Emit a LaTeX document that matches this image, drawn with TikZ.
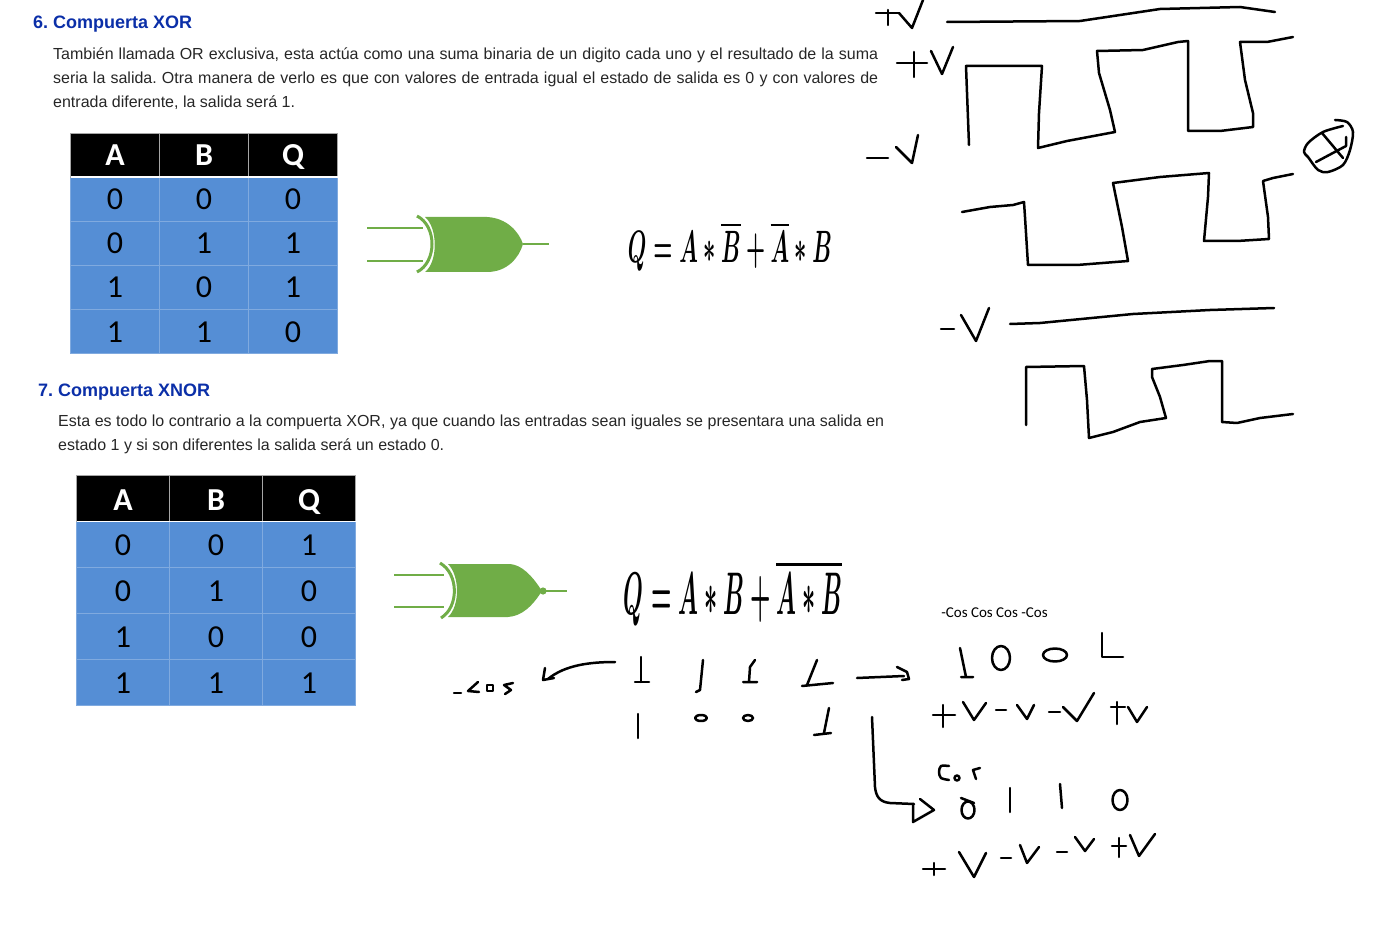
\documentclass[tikz,border=0pt]{standalone}
\usepackage{graphicx}
\usepackage{amsmath}
\usepackage{fontspec}
\setmainfont{Liberation Sans}
\newfontfamily\calfont{Carlito}
\usepackage{xcolor}
\definecolor{gatecolor}{HTML}{70AD47}
\definecolor{bitcolor}{HTML}{558ED5}
\definecolor{titlecolor}{HTML}{0B2FA8}
\definecolor{bodycolor}{HTML}{262626}
\tikzset{
	hand/.style={line width=2.5pt, line cap=round, line join=round},
	wire/.style={gatecolor, line width=1.6pt},
	title/.style={anchor=base west, inner sep=0pt, font=\frenchspacing\fontsize{18}{18}\selectfont\bfseries, text=titlecolor},
	body/.style={anchor=base west, inner sep=0pt, font=\frenchspacing\fontsize{16}{16}\selectfont, text=bodycolor},
	headcell/.style={fill=black, draw=white!65!black, line width=0.7pt, text=white, inner sep=0pt, outer sep=0pt},
	bitcell/.style={fill=bitcolor, draw=bitcolor!75!white, line width=0.7pt, text=black, inner sep=0pt, outer sep=0pt},
	xorcell/.style={minimum width=89pt, minimum height=44pt, text height=22pt, text depth=0pt},
	xnorcell/.style={minimum width=93pt, minimum height=46pt, text height=23.5pt, text depth=0pt},
	bitfont/.style={font=\calfont\fontsize{32}{32}\selectfont},
	headfont/.style={font=\calfont\bfseries\fontsize{32}{32}\selectfont}
}
\begin{document}
\begin{tikzpicture}[x=1pt, y=-1pt]
	\useasboundingbox (0,0) rectangle (1385,928);

	\node[title] (titlexor) at (33,29) {6. Compuerta XOR};
	\node[body] (xorone) at (53,59.7) {\makebox[825pt][s]{También llamada OR exclusiva, esta actúa como una suma binaria de un digito cada uno y el resultado de la suma}};
	\node[body] (xortwo) at (53,83.7) {\makebox[825pt][s]{seria la salida. Otra manera de verlo es que con valores de entrada igual el estado de salida es 0 y con valores de}};
	\node[body] (xorthree) at (53,107.7) {entrada diferente, la salida será 1.};
	\node[title] (titlexnor) at (38,396) {7. Compuerta XNOR};
	\node[body] (xnorone) at (58,426) {\makebox[826pt][s]{Esta es todo lo contrario a la compuerta XOR, ya que cuando las entradas sean iguales se presentara una salida en}};
	\node[body] (xnortwo) at (58,450) {estado 1 y si son diferentes la salida será un estado 0.};

	\foreach \x/\y/\val in {
		115/199/0, 204/199/0, 293/199/0,
		115/243/0, 204/243/1, 293/243/1,
		115/287/1, 204/287/0, 293/287/1,
		115/331/1, 204/331/1, 293/331/0
	}{
		\node[bitcell, xorcell, bitfont] at (\x,\y) {\val};
	}
	\foreach \n/\x/\y/\val in {
		xorA/115/155/A, xorB/204/155/B, xorQ/293/155/Q
	}{
		\node[headcell, xorcell, headfont] (\n) at (\x,\y) {\val};
	}
	\draw[white, line width=1.4pt] (xorA.south west) -- (xorQ.south east);

	\foreach \x/\y/\val in {
		123/544/0, 216/544/0, 309/544/1,
		123/590/0, 216/590/1, 309/590/0,
		123/636/1, 216/636/0, 309/636/0,
		123/682/1, 216/682/1, 309/682/1
	}{
		\node[bitcell, xnorcell, bitfont] at (\x,\y) {\val};
	}
	\foreach \n/\x/\y/\val in {
		xnorA/123/498.5/A, xnorB/216/498.5/B, xnorQ/309/498.5/Q
	}{
		\node[headcell, xnorcell, headfont] (\n) at (\x,\y) {\val};
	}
	\draw[white, line width=1.4pt] (xnorA.south west) -- (xnorQ.south east);

	\coordinate (xorinA) at (367,228);
	\coordinate (xorinB) at (367,261);
	\coordinate (xorendA) at (423,228);
	\coordinate (xorendB) at (423,261);
	\coordinate (xortip) at (523,244);
	\coordinate (xorout) at (549,244);
	\draw[wire] (xorinA) -- (xorendA);
	\draw[wire] (xorinB) -- (xorendB);
	\draw[wire] (xortip) -- (xorout);
	\fill[gatecolor] (425,217) -- (487,217) .. controls (507,218) and (519,232) .. (xortip)
		.. controls (519,258) and (507,272) .. (487,272) -- (425,272)
		.. controls (438,262) and (438,228) .. cycle;
	\draw[gatecolor, line width=3pt] (417,216) .. controls (437,226) and (437,262) .. (417,272);

	\coordinate (xnorinA) at (394,575);
	\coordinate (xnorinB) at (394,607);
	\coordinate (xnorendA) at (444,575);
	\coordinate (xnorendB) at (444,607);
	\coordinate (xnortip) at (543,591);
	\coordinate (xnorout) at (567,591);
	\draw[wire] (xnorinA) -- (xnorendA);
	\draw[wire] (xnorinB) -- (xnorendB);
	\draw[wire] (xnortip) -- (xnorout);
	\fill[gatecolor] (448,564) -- (510,564) .. controls (522,565) and (532,576) .. (540,588)
		-- (540,594) .. controls (532,606) and (522,616) .. (508,617) -- (448,617)
		.. controls (460,606) and (460,576) .. cycle;
	\fill[gatecolor] (xnortip) circle (3.6pt);
	\draw[gatecolor, line width=3pt] (440,563) .. controls (459,574) and (459,607) .. (441,618);

	\node[inner sep=0pt] (eqxor) at (730,246.5) {\resizebox*{204pt}{49pt}{\boldmath$Q=A*\overline{B}+\overline{A}*B$}};
	\node[inner sep=0pt] (eqxnor) at (733,593.5) {\resizebox*{218pt}{65pt}{\boldmath$Q=A*B+\overline{A*B}$}};
	\node[inner sep=0pt, font=\calfont\fontsize{15}{15}\selectfont] (coslabel) at (994.5,612.5) {-Cos Cos Cos -Cos};

	% +V y -V
	\draw[hand] (876,13) -- (899,13) (888,10) -- (888,25);
	\draw[hand] (899,13) -- (912,28) -- (923,0);
	\draw[hand] (947,22) -- (1080,21) -- (1160,9) -- (1240,7) -- (1275,12);
	\draw[hand] (897,63) -- (927,63) (914,52) -- (914,77);
	\draw[hand] (931,51) -- (942,74) -- (953,47);
	\draw[hand] (969,145) -- (966,66) -- (1042,66) -- (1039,113) -- (1038,148) -- (1067,141) -- (1115,132)
		-- (1110,110) -- (1099,73) -- (1097,51) -- (1143,50) -- (1178,42) -- (1188,41) -- (1188,131)
		-- (1220,131) -- (1253,127) -- (1253,113) -- (1245,80) -- (1240,42) -- (1267,42) -- (1293,37);
	\draw[hand] (867,158) -- (888,158);
	\draw[hand] (896,147) -- (912,163) -- (918,135);
	\draw[hand] (962,212) -- (990,207) -- (1013,205) -- (1024,202) -- (1025,217) -- (1028,265) -- (1077,265)
		-- (1128,261) -- (1122,227) -- (1113,183) -- (1160,177) -- (1209,173) -- (1208,197) -- (1204,241)
		-- (1237,241) -- (1269,239) -- (1268,217) -- (1263,181) -- (1273,178) -- (1293,174);
	\draw[hand] plot[smooth] coordinates {(1335,120) (1347,122) (1353,132) (1350,150) (1343,165) (1328,172) (1318,170) (1308,157) (1304,152) (1308,143) (1323,132) (1343,126)};
	\draw[hand] (1322,133) -- (1343,158) (1316,162) -- (1346,146) -- (1346,137);
	\draw[hand] (941,329) -- (954,329);
	\draw[hand] (961,315) -- (976,341) -- (989,308);
	\draw[hand] (1010,324) -- (1040,323) -- (1133,314) -- (1210,310) -- (1274,308);
	\draw[hand] (1026,425) -- (1026,367) -- (1084,366) -- (1087,400) -- (1089,438) -- (1113,432) -- (1140,422)
		-- (1166,418) -- (1160,397) -- (1152,377) -- (1152,369) -- (1183,365) -- (1210,361) -- (1222,361)
		-- (1222,422) -- (1237,423) -- (1260,418) -- (1293,414);

	% -cos
	\draw[hand] (454,693) -- (461,693);
	\draw[hand] (478,682) -- (468,691) -- (479,692);
	\draw[hand] (487,685) rectangle (493,691);
	\draw[hand] (513,683) -- (504,685) -- (511,690) -- (505,694);
	\draw[hand] (615,662) .. controls (590,662) and (565,665) .. (548,679);
	\draw[hand] (545,668) -- (543,680) -- (554,678);
	\draw[hand] (641,657) -- (641,682) (635,682) -- (649,682);
	\draw[hand] (703,660) -- (700,690) -- (696,692);
	\draw[hand] (755,660) -- (750,667) -- (749,682) (743,682) -- (757,682);
	\draw[hand] (817,660) -- (807,685) (802,686) -- (833,683);
	\draw[hand] (857,678) -- (904,676);
	\draw[hand] (897,667) -- (907,672) -- (909,679) -- (902,680);
	\draw[hand] (638,714) -- (638,738);
	\draw[hand] (701,718) ellipse (6pt and 3pt);
	\draw[hand] (748,718) ellipse (5pt and 3pt);
	\draw[hand] (829,708) -- (824,733) (814,735) -- (831,733);
	\draw[hand] (872,717) -- (875,787) .. controls (876,797) and (880,802) .. (890,803) -- (914,804);
	\draw[hand] (920,799) -- (934,810) -- (913,822) -- (913,804);

	% fila superior
	\draw[hand] (960,648) -- (966,677) (961,677) -- (973,677);
	\draw[hand] (1001,658) ellipse (9pt and 12pt);
	\draw[hand] (1055,655) ellipse (12pt and 6.5pt);
	\draw[hand] (1102,633) -- (1102,657) -- (1123,657);
	\draw[hand] (933,715) -- (955,715) (943,705) -- (943,727);
	\draw[hand] (963,702) -- (974,720) -- (986,703);
	\draw[hand] (996,710) -- (1006,710);
	\draw[hand] (1017,705) -- (1027,719) -- (1034,705);
	\draw[hand] (1049,712) -- (1060,712);
	\draw[hand] (1063,707) -- (1077,721) -- (1094,693);
	\draw[hand] (1111,707) -- (1125,707) (1117,702) -- (1117,724);
	\draw[hand] (1128,707) -- (1137,722) -- (1147,707);

	% cos
	\draw[hand] plot[smooth] coordinates {(949,766) (941,766) (939,772) (941,778) (949,780)};
	\draw[hand] (957,778) circle (2.5pt);
	\draw[hand] (980,768) -- (973,770) -- (976,779);
	\draw[hand] (961,798) -- (974,803);
	\draw[hand] (968,810) ellipse (6.5pt and 8.5pt);
	\draw[hand] (1010,788) -- (1010,812);
	\draw[hand] (1060,784) -- (1062,808);
	\draw[hand] (1120,800) ellipse (7.5pt and 10pt);
	\draw[hand] (923,869) -- (945,869) (934,863) -- (934,875);
	\draw[hand] (959,852) -- (974,877) -- (986,853);
	\draw[hand] (1001,858) -- (1011,858);
	\draw[hand] (1020,845) -- (1027,863) -- (1039,847);
	\draw[hand] (1057,852) -- (1067,852);
	\draw[hand] (1075,837) -- (1085,851) -- (1094,839);
	\draw[hand] (1112,846) -- (1126,846) (1119,838) -- (1119,857);
	\draw[hand] (1130,835) -- (1139,856) -- (1155,834);
\end{tikzpicture}
\end{document}
